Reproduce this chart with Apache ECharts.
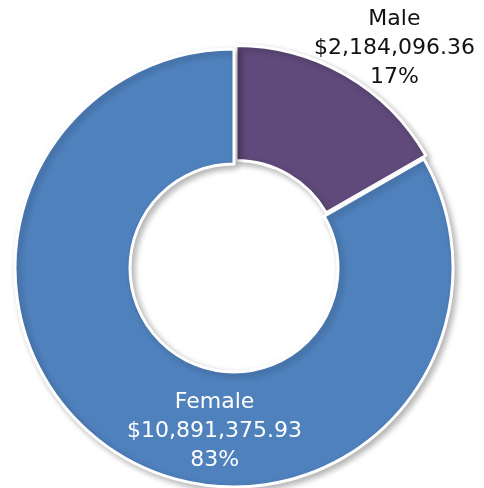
<!DOCTYPE html>
<html>
<head>
<meta charset="utf-8">
<script src="https://cdn.jsdelivr.net/npm/echarts@6/dist/echarts.min.js"></script>
<style>
  html, body { margin: 0; padding: 0; background: #fff; }
  #chart { width: 484px; height: 488px; }
</style>
</head>
<body>
<div id="chart"></div>
<script>
var categories = ['Male', 'Female'];
var amounts = [2184096.36, 10891375.93];
var amountLabels = ['$2,184,096.36', '$10,891,375.93'];
var percentLabels = ['17%', '83%'];
var colors = ['#604A7B', '#4F81BD'];

var chart = echarts.init(document.getElementById('chart'));

// label offsets from the slice middle, tuned by eye
var labelOffsets = [[76, -74], [63, 21]];
var labelColors = ['#111111', '#ffffff'];

var pieData = [];
for (var i = 0; i < categories.length; i++) {
    var lbl = {
        color: labelColors[i],
        offset: labelOffsets[i],
        formatter: categories[i] + '\n' + amountLabels[i] + '\n' + percentLabels[i]
    };
    pieData.push({
        name: categories[i],
        value: amounts[i],
        selected: i === 0,
        itemStyle: { color: colors[i] },
        label: lbl,
        select: { label: lbl }
    });
}

var option = {
    animation: false,
    series: [{
        type: 'pie',
        center: [234, 268],
        radius: [104, 219],
        startAngle: 90,
        clockwise: true,
        selectedMode: 'single',
        selectedOffset: 4,
        avoidLabelOverlap: false,
        itemStyle: {
            borderColor: '#ffffff',
            borderWidth: 3,
            shadowBlur: 6,
            shadowOffsetX: 3,
            shadowOffsetY: 3,
            shadowColor: 'rgba(0,0,0,0.28)'
        },
        label: {
            show: true,
            position: 'inside',
            fontFamily: 'DejaVu Sans',
            fontSize: 22,
            lineHeight: 29,
            align: 'center'
        },
        labelLine: { show: false },
        emphasis: { disabled: true },
        data: pieData
    }]
};

chart.setOption(option);
</script>
</body>
</html>
